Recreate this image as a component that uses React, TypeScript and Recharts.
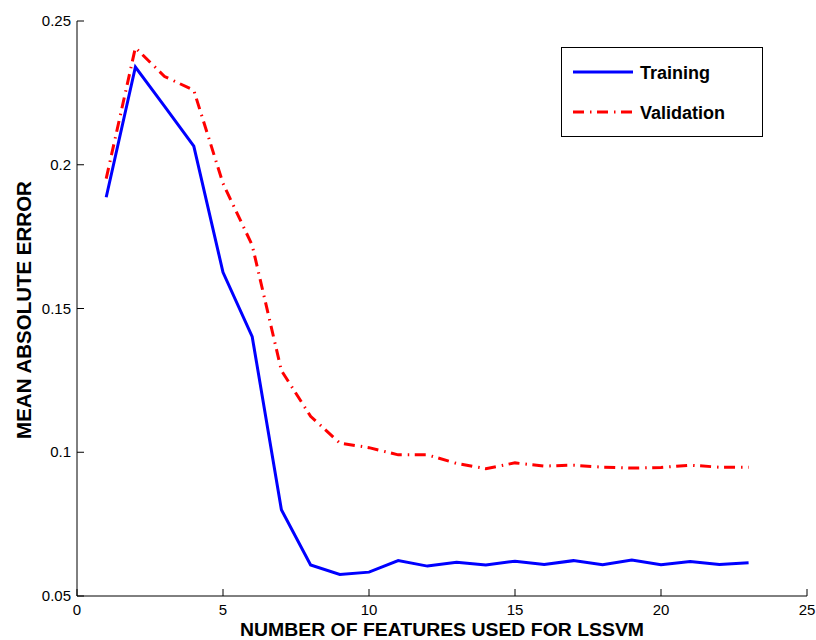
import { LineChart, Line, XAxis, YAxis, Label } from 'recharts';

const featureCounts = [1, 2, 3, 4, 5, 6, 7, 8, 9, 10, 11, 12, 13, 14, 15, 16, 17, 18, 19, 20, 21, 22, 23];
const trainingMae = [
  0.1887, 0.234, 0.2203, 0.2065, 0.1626, 0.1402, 0.08, 0.0608, 0.0575, 0.0583, 0.0623, 0.0604,
  0.0617, 0.0608, 0.0621, 0.061, 0.0623, 0.0609, 0.0625, 0.0609, 0.062, 0.061, 0.0616,
];
const validationMae = [
  0.1952, 0.2407, 0.2307, 0.2259, 0.1935, 0.172, 0.1284, 0.1125, 0.1032, 0.1016, 0.0991, 0.0991,
  0.0961, 0.0943, 0.0963, 0.0952, 0.0955, 0.0948, 0.0945, 0.0947, 0.0955, 0.0948, 0.0948,
];
const xTicks = [0, 5, 10, 15, 20, 25];
const yTicks = [0.05, 0.1, 0.15, 0.2, 0.25];

const data = featureCounts.map((n, i) => ({
  n,
  training: trainingMae[i],
  validation: validationMae[i],
}));

const FONT = '"Liberation Sans", Arial, Helvetica, sans-serif';
const TICK = 7;
const DASH_DOT = '11 6 1.5 5.5';

// matlab-style ticks: marks point into the plot box
const BottomTick = ({ x, y, payload }: any) => (
  <g>
    <line x1={x} x2={x} y1={y} y2={y - TICK} stroke="#000" />
    <text x={x} y={y + 19} textAnchor="middle" fontFamily={FONT} fontSize={15} fill="#000">
      {payload.value}
    </text>
  </g>
);
const TopTick = ({ x, y }: any) => <line x1={x} x2={x} y1={y} y2={y + TICK} stroke="#000" />;
const LeftTick = ({ x, y, payload }: any) => (
  <g>
    <line x1={x} x2={x + TICK} y1={y} y2={y} stroke="#000" />
    <text x={x - 6} y={y + 5} textAnchor="end" fontFamily={FONT} fontSize={15} fill="#000">
      {String(payload.value)}
    </text>
  </g>
);
const RightTick = ({ x, y }: any) => <line x1={x} x2={x - TICK} y1={y} y2={y} stroke="#000" />;

// legend box drawn on top of the chart, upper right corner of the axes
const LegendBox = () => (
  <svg
    width={202}
    height={90}
    style={{ position: 'absolute', left: 561, top: 47, background: '#fff' }}
  >
    <rect x={0.5} y={0.5} width={201} height={89} fill="#fff" stroke="#000" />
    <line x1={12} x2={72} y1={25} y2={25} stroke="#0000ff" strokeWidth={3} />
    <text x={79} y={32} fontFamily={FONT} fontWeight="bold" fontSize={18} fill="#000">Training</text>
    <line x1={12} x2={72} y1={65} y2={65} stroke="#ff0000" strokeWidth={3} strokeDasharray={DASH_DOT} />
    <text x={79} y={72} fontFamily={FONT} fontWeight="bold" fontSize={18} fill="#000">Validation</text>
  </svg>
);

export default function App() {
  return (
    <div style={{ position: 'absolute', left: 0, top: 0, width: 816, height: 640, background: '#fff' }}>
      <LineChart width={816} height={640} data={data} margin={{ top: 21, right: 9, bottom: 0, left: 0 }}>
        <XAxis
          dataKey="n"
          type="number"
          domain={[0, 25]}
          ticks={xTicks}
          height={44}
          tickSize={0}
          tickMargin={0}
          tick={<BottomTick />}
          axisLine={{ stroke: '#000' }}
        >
          <Label
            content={() => (
              <text
                x={442}
                y={636}
                textAnchor="middle"
                fontFamily={FONT}
                fontWeight="bold"
                fontSize={19}
                textLength={404}
                lengthAdjust="spacingAndGlyphs"
                fill="#000"
              >
                NUMBER OF FEATURES USED FOR LSSVM
              </text>
            )}
          />
        </XAxis>
        <XAxis
          xAxisId="top"
          dataKey="n"
          type="number"
          orientation="top"
          domain={[0, 25]}
          ticks={xTicks}
          height={0}
          tickSize={0}
          tickMargin={0}
          tick={<TopTick />}
          axisLine={{ stroke: '#000' }}
        />
        <YAxis
          domain={[0.05, 0.25]}
          ticks={yTicks}
          width={77}
          tickSize={0}
          tickMargin={0}
          tick={<LeftTick />}
          axisLine={{ stroke: '#000' }}
        >
          <Label
            content={() => (
              <text
                transform="translate(31, 310) rotate(-90)"
                textAnchor="middle"
                fontFamily={FONT}
                fontWeight="bold"
                fontSize={20.5}
                fill="#000"
              >
                MEAN ABSOLUTE ERROR
              </text>
            )}
          />
        </YAxis>
        <YAxis
          yAxisId="right"
          orientation="right"
          domain={[0.05, 0.25]}
          ticks={yTicks}
          width={0}
          tickSize={0}
          tickMargin={0}
          tick={<RightTick />}
          axisLine={{ stroke: '#000' }}
        />
        <Line
          type="linear"
          dataKey="training"
          name="Training"
          stroke="#0000ff"
          strokeWidth={3}
          dot={false}
          isAnimationActive={false}
        />
        <Line
          type="linear"
          dataKey="validation"
          name="Validation"
          stroke="#ff0000"
          strokeWidth={3}
          strokeDasharray={DASH_DOT}
          dot={false}
          isAnimationActive={false}
        />
      </LineChart>
      <LegendBox />
    </div>
  );
}
